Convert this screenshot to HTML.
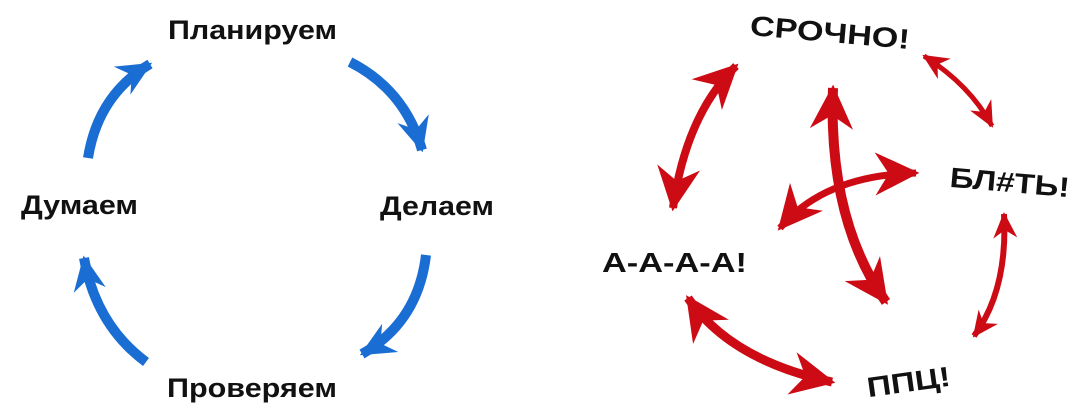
<!DOCTYPE html>
<html><head><meta charset="utf-8"><style>
html,body{margin:0;padding:0;background:#fff;width:1083px;height:413px;overflow:hidden}
svg{display:block}
text{font-family:"Liberation Sans","DejaVu Sans",sans-serif;font-weight:bold;fill:#111}
</style></head><body>
<svg width="1083" height="413" viewBox="0 0 1083 413" xmlns="http://www.w3.org/2000/svg">
<defs>
<marker id="bh" markerUnits="userSpaceOnUse" markerWidth="40" markerHeight="40" viewBox="-30 -15 32 30" refX="0" refY="0" orient="auto-start-reverse">
<path d="M2,0 L-26,-13 L-17,0 L-26,13 Z" fill="#1a6dd2"/>
</marker>
<marker id="rh" markerUnits="userSpaceOnUse" markerWidth="50" markerHeight="50" viewBox="-40 -22 44 44" refX="0" refY="0" orient="auto-start-reverse">
<path d="M3,0 L-36,-19 L-24,0 L-36,19 Z" fill="#cc0b14"/>
</marker>
<marker id="rs" markerUnits="userSpaceOnUse" markerWidth="30" markerHeight="30" viewBox="-26 -14 30 28" refX="0" refY="0" orient="auto-start-reverse">
<path d="M2,0 L-24,-12 L-16,0 L-24,12 Z" fill="#cc0b14"/>
</marker>
</defs>
<g fill="none" stroke="#1a6dd2" stroke-width="10">
<path d="M88,158 Q98,95 150,64" marker-end="url(#bh)"/>
<path d="M350,62 Q405,90 422,150" marker-end="url(#bh)"/>
<path d="M426,255 Q418,322 362,354" marker-end="url(#bh)"/>
<path d="M146,362 Q96,325 84,258" marker-end="url(#bh)"/>
</g>
<g font-size="27">
<text x="168" y="39" textLength="169" lengthAdjust="spacingAndGlyphs">Планируем</text>
<text x="21" y="214" textLength="117" lengthAdjust="spacingAndGlyphs">Думаем</text>
<text x="380" y="215" textLength="114" lengthAdjust="spacingAndGlyphs">Делаем</text>
<text x="167" y="397" textLength="170" lengthAdjust="spacingAndGlyphs">Проверяем</text>
</g>
<g fill="none" stroke="#cc0b14" stroke-width="8">
<path d="M736,66 Q686,115 673,208" marker-start="url(#rh)" marker-end="url(#rh)"/>
<path d="M924,56 Q970,85 992,126" stroke-width="5" marker-start="url(#rs)" marker-end="url(#rs)"/>
<path d="M1004,214 Q1008,290 974,336" stroke-width="6" marker-start="url(#rs)" marker-end="url(#rs)"/>
<path d="M688,298 Q730,360 832,382" stroke-width="9" marker-start="url(#rh)" marker-end="url(#rh)"/>
<path d="M833,88 Q828,220 886,302" stroke-width="10" marker-start="url(#rh)" marker-end="url(#rh)"/>
<path d="M916,173 Q825,175 780,228" stroke-width="7" marker-start="url(#rh)" marker-end="url(#rh)"/>
</g>
<g font-size="28">
<text x="750" y="42" transform="rotate(5 830 32)" textLength="160" lengthAdjust="spacingAndGlyphs">СРОЧНО!</text>
<text x="950" y="192" transform="rotate(5 1010 180)" textLength="120" lengthAdjust="spacingAndGlyphs">БЛ#ТЬ!</text>
<text x="602" y="272" textLength="145" lengthAdjust="spacingAndGlyphs">А-А-А-А!</text>
<text x="866" y="392" transform="rotate(-8 905 378)" textLength="84" lengthAdjust="spacingAndGlyphs">ППЦ!</text>
</g>
</svg>
</body></html>
